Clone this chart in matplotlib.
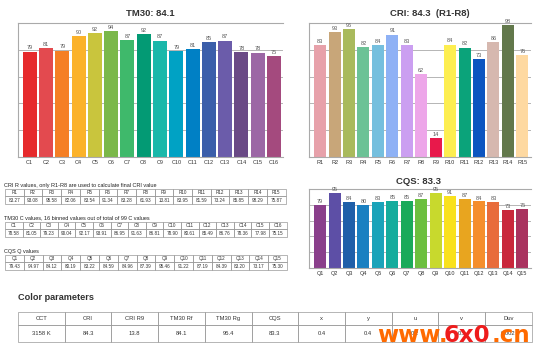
import matplotlib
matplotlib.use('Agg')
import matplotlib.pyplot as plt
from matplotlib.patches import Rectangle

plt.rcParams['font.family'] = ['Liberation Sans', 'DejaVu Sans']

# データ -------------------------
tm30_labels = ['C%d' % i for i in range(1, 17)]
tm30_values = [78.58, 81.05, 79.23, 90.04, 92.17, 93.91, 86.95, 91.63,
               86.81, 78.90, 80.61, 85.49, 86.76, 78.36, 77.98, 75.15]
tm30_colors = ['#e62a2c', '#e34a4f', '#f57f25', '#fbb22a', '#c9c53d', '#7bb84a',
               '#3fb96b', '#039a74', '#19b8aa', '#00a2c4', '#0080c5', '#3b5eaa',
               '#6b5caa', '#6a4a86', '#9c67a5', '#a44a7e']

cri_labels = ['R%d' % i for i in range(1, 16)]
cri_values = [83.27, 93.08, 95.58, 82.06, 83.54, 91.34, 83.28, 61.93,
              13.81, 83.95, 81.59, 73.24, 85.85, 98.29, 75.87]
cri_colors = ['#e7a1aa', '#c8a679', '#a9ba5c', '#6cc296', '#75bfde', '#8eb1f5',
              '#cb9ff1', '#eda6e9', '#e8194b', '#fdee50', '#0ba37a', '#0c55c0',
              '#d6b8af', '#62784b', '#fed9a1']

cqs_labels = ['Q%d' % i for i in range(1, 16)]
cqs_values = [79.43, 94.97, 84.12, 80.19, 83.22, 84.59, 84.96, 87.39,
              95.46, 91.22, 87.19, 84.39, 83.20, 73.17, 75.30]
cqs_colors = ['#8a3f8b', '#5d4fa6', '#1f5fa9', '#1a80c1', '#1aa3b9', '#15ac9d',
              '#1aaa5a', '#6cbf3f', '#c8d92d', '#f9e11d', '#e8a51f', '#f58e2c',
              '#e86c3b', '#c9273b', '#a9335f']

param_names = ['CCT', 'CRI', 'CRI R9', 'TM30 Rf', 'TM30 Rg', 'CQS',
               'x', 'y', 'u', 'v', 'Duv']
param_values = ['3158 K', '84.3', '13.8', '84.1', '95.4', '83.3',
                '0.4', '0.4', '0.2', '0.3', '0.002']

W, H = 550, 359
fig = plt.figure(figsize=(W / 100, H / 100), dpi=100)

# 背景用の軸 (ピクセル座標)
bg = fig.add_axes([0, 0, 1, 1])
bg.set_xlim(0, W)
bg.set_ylim(H, 0)
bg.axis('off')


def px_axes(l, t, r, b):
    return fig.add_axes([l / W, 1 - b / H, (r - l) / W, (b - t) / H])


def bar_chart(ax, labels, values, colors, xl, xr, width):
    x = list(range(len(values)))
    ax.bar(x, values, width=width, color=colors, zorder=2)
    for i, v in enumerate(values):
        ax.text(i, v + 1, '%d' % round(v), ha='center', va='bottom',
                fontsize=4, color='#555555')
    ax.set_xlim(xl, xr)
    ax.set_ylim(0, 100)
    ax.set_xticks(x)
    ax.set_xticklabels(labels, fontsize=4, color='#333333')
    ax.tick_params(axis='x', length=0, pad=2)
    ax.set_yticks([20, 40, 60, 80, 100])
    ax.set_yticklabels([])
    ax.tick_params(axis='y', length=0)
    ax.grid(axis='y', color='#aaaaaa', lw=0.6, zorder=0)
    for s in ['left', 'top', 'bottom']:
        ax.spines[s].set_color('#aaaaaa')
        ax.spines[s].set_linewidth(0.8)
    ax.spines['right'].set_visible(False)


ax1 = px_axes(18, 23, 283, 157)
bar_chart(ax1, tm30_labels, tm30_values, tm30_colors, -0.72, 15.55, 0.86)
bg.text(150, 13, 'TM30: 84.1', ha='center', va='center', fontsize=6.8,
        fontweight='bold', color='#333333')

ax2 = px_axes(309, 23, 531, 157)
bar_chart(ax2, cri_labels, cri_values, cri_colors, -0.77, 14.6, 0.83)
bg.text(430, 13, 'CRI: 84.3  (R1-R8)', ha='center', va='center', fontsize=6.8,
        fontweight='bold', color='#333333')

ax3 = px_axes(309, 189, 531, 268)
bar_chart(ax3, cqs_labels, cqs_values, cqs_colors, -0.77, 14.6, 0.83)
bg.text(418, 181, 'CQS: 83.3', ha='center', va='center', fontsize=6.8,
        fontweight='bold', color='#333333')


# 表 -------------------------
def draw_table(x0, y0, col_w, h1, h2, headers, values, fs, lc='#999999', fmt='%.2f'):
    for i, (h, v) in enumerate(zip(headers, values)):
        x = x0 + i * col_w
        bg.add_patch(Rectangle((x, y0), col_w, h1, fill=False, ec=lc, lw=0.5))
        bg.add_patch(Rectangle((x, y0 + h1), col_w, h2, fill=False, ec=lc, lw=0.5))
        bg.text(x + col_w / 2, y0 + h1 / 2, h, ha='center', va='center',
                fontsize=fs, color='#333333')
        s = v if isinstance(v, str) else fmt % v
        bg.text(x + col_w / 2, y0 + h1 + h2 / 2, s, ha='center', va='center',
                fontsize=fs, color='#333333')


bg.text(4, 185, 'CRI R values, only R1-R8 are used to calculate final CRI value',
        ha='left', va='center', fontsize=4, color='#222222')
draw_table(5, 188.5, 18.7, 7.7, 7.7, cri_labels, cri_values, 3.3)

bg.text(4, 218, 'TM30 C values, 16 binned values out of total of 99 C values',
        ha='left', va='center', fontsize=4, color='#222222')
draw_table(5, 221.5, 17.6, 7.7, 7.7, tm30_labels, tm30_values, 3.3)

bg.text(4, 251, 'CQS Q values',
        ha='left', va='center', fontsize=4, color='#222222')
draw_table(5, 254.5, 18.8, 7.7, 7.7, cqs_labels, cqs_values, 3.3)

bg.text(18, 298, 'Color parameters', ha='left', va='center', fontsize=6.6,
        fontweight='bold', color='#333333')
draw_table(18, 312, 46.7, 13, 17, param_names, param_values, 4.2)

# ウォーターマーク
bg.text(377, 336, 'www.', ha='left', va='center', fontsize=16.5,
        fontweight='bold', family='DejaVu Sans', color='#ff6a00')
bg.text(444, 336, '6x0', ha='left', va='center', fontsize=16.5,
        fontweight='bold', family='DejaVu Sans', color='#ee1c1c')
bg.text(492, 336, '.cn', ha='left', va='center', fontsize=16.5,
        fontweight='bold', family='DejaVu Sans', color='#ff6a00')

fig.savefig('out.png', dpi=100)
